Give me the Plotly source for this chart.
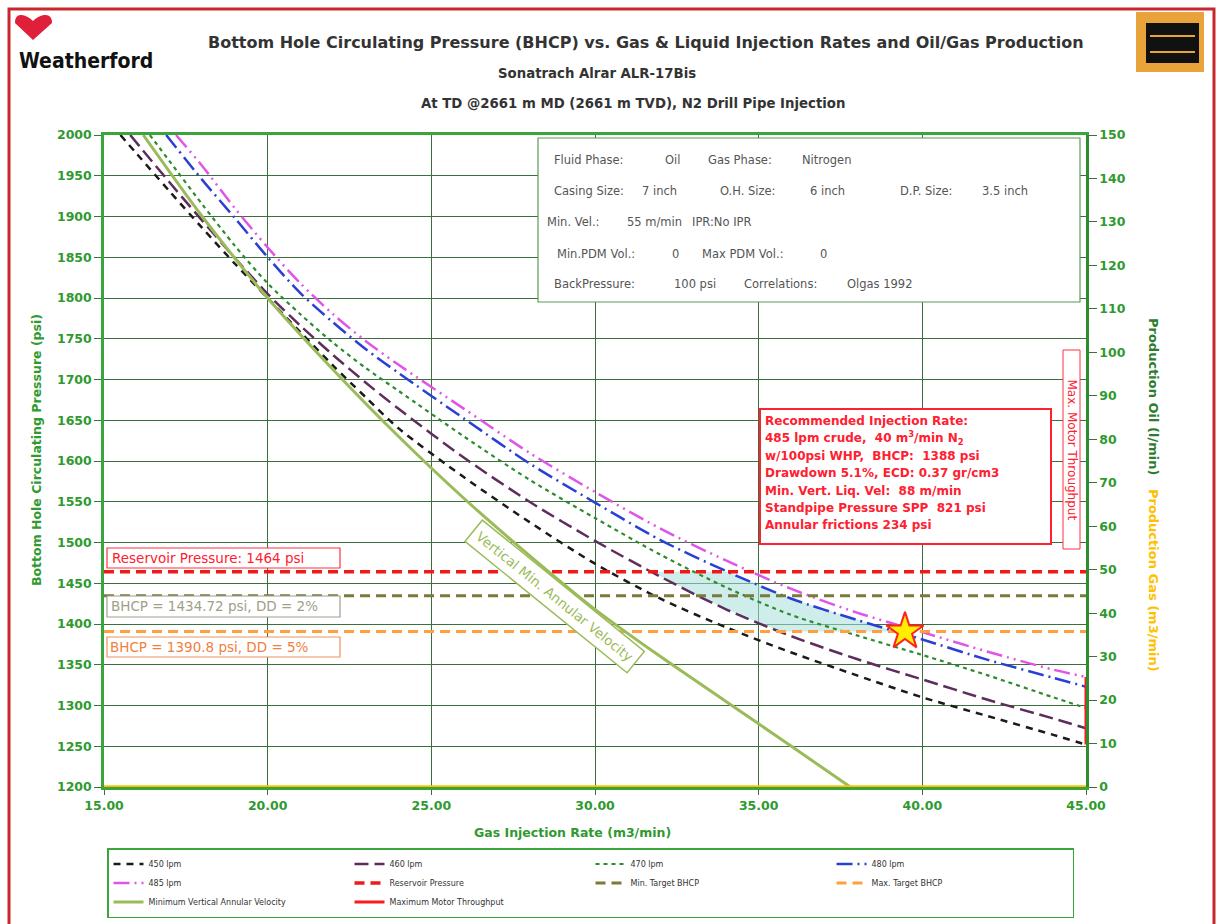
import numpy as np
import plotly.graph_objects as go

# ---------------- data ----------------
gas_450 = [15.5, 16, 17, 18, 19, 20, 21, 22, 23, 24, 26, 28, 30, 32, 34, 36, 38, 40, 42, 44, 45]
bhcp_450 = [2000, 1977, 1931, 1886, 1842, 1800, 1758, 1717, 1678, 1640, 1580, 1525, 1474, 1431, 1396, 1365, 1337, 1310, 1287, 1264, 1252]

gas_460 = [15.8, 17, 18, 19, 20, 21, 22, 23, 24, 26, 28, 30, 32, 34, 36, 38, 40, 42, 44, 45]
bhcp_460 = [2000, 1942, 1895, 1849, 1805, 1766, 1730, 1696, 1664, 1604, 1550, 1502, 1458, 1418, 1385, 1357, 1332, 1307, 1284, 1272]

gas_470 = [16.4, 17, 18, 19, 20, 21, 22, 23, 24, 26, 28, 30, 32, 34, 36, 38, 40, 42, 44, 45]
bhcp_470 = [2000, 1968, 1915, 1864, 1818, 1780, 1745, 1714, 1686, 1630, 1577, 1530, 1485, 1445, 1411, 1386, 1362, 1337, 1310, 1297]

gas_480 = [16.9, 18, 19, 20, 21, 22, 23, 24, 26, 28, 30, 32, 34, 36, 38, 40, 42, 44, 45]
bhcp_480 = [2000, 1945, 1898, 1850, 1806, 1770, 1737, 1708, 1652, 1597, 1549, 1503, 1465, 1431, 1405, 1381, 1356, 1334, 1323]

gas_485 = [17.2, 18, 19, 20, 21, 22, 23, 24, 26, 28, 30, 32, 34, 36, 38, 40, 42, 44, 45]
bhcp_485 = [2000, 1962, 1910, 1862, 1818, 1780, 1747, 1718, 1664, 1610, 1562, 1517, 1478, 1443, 1414, 1390, 1366, 1344, 1335]

gas_minvel = [16.2, 18, 20, 22, 24, 26, 28, 30, 32, 34, 36, 37.8]
bhcp_minvel = [2000, 1900, 1800, 1712, 1630, 1554, 1484, 1418, 1360, 1305, 1250, 1200]

gas_range = [15, 45]
reservoir_pressure = 1464
min_target_bhcp = 1434.72
max_target_bhcp = 1390.8
motor_gas = [45, 45]
motor_bhcp = [1252, 1335]
prod_gas = [0, 0]

rec_gas = [39.47]
rec_bhcp = [1390.8]

# ---------------- geometry helpers ----------------
W, H = 1221, 924
L, T, R, B = 104, 135, 1086, 787


def px(x):
    return (x - L) / (R - L)


def py(y):
    return (B - y) / (B - T)


FONT = "DejaVu Sans, Verdana, sans-serif"
GREEN_TXT = "#2f9a2f"

fig = go.Figure()


def curve(x, y, name, color, dash, width):
    fig.add_trace(go.Scatter(x=x, y=y, name=name, mode="lines",
                             line=dict(color=color, dash=dash, width=width,
                                       shape="spline", smoothing=0.8)))


# shaded recommended window between the 460 and 480 curves
p_levels = np.linspace(reservoir_pressure, max_target_bhcp, 25)
x480 = np.interp(p_levels, bhcp_480[::-1], gas_480[::-1])
x460 = np.interp(p_levels[::-1], bhcp_460[::-1], gas_460[::-1])
fig.add_trace(go.Scatter(x=np.concatenate([x480, x460]),
                         y=np.concatenate([p_levels, p_levels[::-1]]),
                         fill="toself", fillcolor="rgba(165,222,218,0.55)",
                         line=dict(width=0), mode="lines", showlegend=False,
                         hoverinfo="skip"))

curve(gas_450, bhcp_450, "450 lpm", "#1a1a1a", "7px,6px", 2.5)
curve(gas_460, bhcp_460, "460 lpm", "#5e2d5e", "14px,6px", 2.5)
curve(gas_470, bhcp_470, "470 lpm", "#2e8b2e", "4px,4px", 2.2)
curve(gas_480, bhcp_480, "480 lpm", "#2a3fd6", "16px,5px,2px,5px", 2.5)
curve(gas_485, bhcp_485, "485 lpm", "#e055e8", "16px,5px,2px,5px,2px,5px", 2.5)

fig.add_trace(go.Scatter(x=gas_range, y=[reservoir_pressure] * 2, name="Reservoir Pressure",
                         mode="lines", line=dict(color="#f01818", dash="10px,6px", width=3.5)))
fig.add_trace(go.Scatter(x=gas_range, y=[min_target_bhcp] * 2, name="Min. Target BHCP",
                         mode="lines", line=dict(color="#7a7a3a", dash="10px,6px", width=3)))
fig.add_trace(go.Scatter(x=gas_range, y=[max_target_bhcp] * 2, name="Max. Target BHCP",
                         mode="lines", line=dict(color="#ffa040", dash="10px,6px", width=3)))
curve(gas_minvel, bhcp_minvel, "Minimum Vertical Annular Velocity", "#9bbb59", "solid", 3)
fig.add_trace(go.Scatter(x=motor_gas, y=motor_bhcp, name="Maximum Motor Throughput",
                         mode="lines", line=dict(color="#ff1a1a", width=3)))

fig.add_trace(go.Scatter(x=gas_range, y=prod_gas, yaxis="y2", mode="lines",
                         line=dict(color="#ffc000", width=3.5), showlegend=False))

fig.add_trace(go.Scatter(x=rec_gas, y=rec_bhcp, mode="markers", showlegend=False,
                         marker=dict(symbol="star", size=28, color="#ffee00",
                                     line=dict(color="#ff2020", width=2))))

# ---------------- shapes ----------------
shapes = []


def rect(x0, y0, x1, y1, line_color, width=1, fill="rgba(0,0,0,0)", layer="above"):
    shapes.append(dict(type="rect", xref="paper", yref="paper",
                       x0=px(x0), x1=px(x1), y0=py(y1), y1=py(y0),
                       line=dict(color=line_color, width=width), fillcolor=fill, layer=layer))


# page frame
rect(9, 9, 1214, 1000, "#c8282d", 3)
# info box
rect(538, 138, 1080, 302, "#5a9a5a", 1.2, "white")
# recommended box
rect(760, 409, 1051, 544, "#ff2030", 2, "white")
# max motor throughput label box
rect(1063, 350, 1080, 549, "#ff3040", 1, "white")
# reservoir / target label boxes
rect(107, 548, 340, 568, "#ff3040", 1.2, "white")
rect(107, 596, 340, 617, "#a0a090", 1.2, "white")
rect(107, 637, 340, 657, "#f09060", 1.2, "white")
# Sonatrach logo
rect(1136, 12, 1204, 72, "#e8a33a", 0, "#e8a33a")
rect(1146, 23, 1199, 63, "#111111", 0, "#111111")
for yy in (35, 51):
    rect(1150, yy, 1195, yy + 2, "#e8a33a", 0, "#e8a33a")


# Weatherford red mark
def P(x, y):
    return f"{px(x):.5f},{py(y):.5f}"


mark = (f"M {P(15,23)} Q {P(15,14)} {P(22,15)} Q {P(28,16)} {P(33,21)} "
        f"Q {P(38,16)} {P(44,15)} Q {P(52,14)} {P(52,23)} L {P(33,40)} Z")
shapes.append(dict(type="path", xref="paper", yref="paper", path=mark,
                   fillcolor="#e0203a", line=dict(width=0)))

# ---------------- annotations ----------------
ann = []


def text(x, y, s, size=12, color="#555", bold=False, xanchor="left", angle=0, family=FONT, **kw):
    ann.append(dict(xref="paper", yref="paper", x=px(x), y=py(y), text=s, showarrow=False,
                    xanchor=xanchor, yanchor="middle", textangle=angle,
                    font=dict(family=family, size=size, color=color,
                              weight="bold" if bold else "normal"), **kw))


# titles
text(646, 42, "Bottom Hole Circulating Pressure (BHCP) vs. Gas & Liquid Injection Rates and Oil/Gas Production",
     16, "#333", True, "center")
text(597, 73, "Sonatrach Alrar ALR-17Bis", 13.3, "#333", True, "center")
text(633, 103, "At TD @2661 m MD (2661 m TVD), N2 Drill Pipe Injection", 13.3, "#333", True, "center")
text(86, 61, "<b>Weatherford</b>", 21, "#111", True, "center",
     family="DejaVu Sans Condensed, DejaVu Sans, sans-serif")

# info box text
info = [
    (160, [(552, "Fluid Phase:"), (663, "Oil"), (706, "Gas Phase:"), (800, "Nitrogen")]),
    (191, [(552, "Casing Size:"), (640, "7 inch"), (718, "O.H. Size:"), (808, "6 inch"),
           (898, "D.P. Size:"), (980, "3.5 inch")]),
    (222, [(545, "Min. Vel.:"), (625, "55 m/min"), (690, "IPR:No IPR")]),
    (254, [(555, "Min.PDM Vol.:"), (670, "0"), (700, "Max PDM Vol.:"), (818, "0")]),
    (284, [(552, "BackPressure:"), (672, "100 psi"), (742, "Correlations:"), (845, "Olgas 1992")]),
]
for yy, parts in info:
    for xx, s in parts:
        text(xx, yy, s, 11.5, "#555")

# recommended box text
rec_lines = [
    "Recommended Injection Rate:",
    "485 lpm crude,  40 m<sup>3</sup>/min N<sub>2</sub>",
    "w/100psi WHP,  BHCP:  1388 psi",
    "Drawdown 5.1%, ECD: 0.37 gr/cm3",
    "Min. Vert. Liq. Vel:  88 m/min",
    "Standpipe Pressure SPP  821 psi",
    "Annular frictions 234 psi",
]
for i, s in enumerate(rec_lines):
    text(763, 421 + i * 17.4, s, 12, "#ff2030", True)

text(1071.5, 450, "Max. Motor Throughput", 12, "#ff2030", False, "center", 90)

text(110, 558, "Reservoir Pressure: 1464 psi", 13.5, "#ff2030")
text(109, 606, "BHCP = 1434.72 psi, DD = 2%", 13.5, "#a0a088")
text(108, 647, "BHCP = 1390.8 psi, DD = 5%", 13.5, "#f08040")

ann.append(dict(xref="paper", yref="paper", x=px(555), y=py(596),
                text="Vertical Min. Annular Velocity", showarrow=False, textangle=39,
                xanchor="center", yanchor="middle",
                font=dict(family=FONT, size=13.5, color="#9bbb59"),
                bordercolor="#9bbb59", borderwidth=1.5, borderpad=5, bgcolor="white"))

# axis titles
text(36, 450, "Bottom Hole Circulating Pressure (psi)", 12.5, GREEN_TXT, True, "center", -90)
text(572, 832, "Gas Injection Rate (m3/min)", 12.5, GREEN_TXT, True, "center")
text(1153, 495,
     "<span style='color:#2e7d2e'>Production Oil (l/min)</span>   "
     "<span style='color:#ffc000'>Production Gas (m3/min)</span>",
     13, GREEN_TXT, True, "center", 90)

tickfont = dict(family=FONT, size=12.5, color=GREEN_TXT, weight="bold")
grid = "#3d6e3d"

fig.update_layout(
    width=W, height=H,
    margin=dict(l=L, r=W - R, t=T, b=H - B, pad=0, autoexpand=False),
    paper_bgcolor="white", plot_bgcolor="white",
    font=dict(family=FONT),
    xaxis=dict(range=[15, 45], dtick=5, tick0=15, tickformat=".2f", showgrid=True,
               gridcolor=grid, gridwidth=1.2, zeroline=False, showline=True, mirror=True,
               linecolor="#3aa53a", linewidth=2.5, ticks="outside", ticklen=5,
               tickcolor="#3d6e3d", tickfont=tickfont, automargin=False),
    yaxis=dict(range=[1200, 2000], dtick=50, showgrid=True, gridcolor=grid, gridwidth=1.2,
               zeroline=False, showline=True, mirror=True, linecolor="#3aa53a", linewidth=2.5,
               ticks="outside", ticklen=7, tickcolor="#3d6e3d", tickfont=tickfont,
               automargin=False),
    yaxis2=dict(range=[0, 150], dtick=10, overlaying="y", side="right", showgrid=False,
                zeroline=False, showline=True, linecolor="#2e8b2e", linewidth=2.5,
                ticks="outside", ticklen=8, tickcolor="#3d6e3d", tickfont=tickfont,
                automargin=False),
    legend=dict(orientation="h", xref="container", yref="container",
                x=107 / W, y=1 - 848 / H, xanchor="left", yanchor="top",
                entrywidth=196, entrywidthmode="pixels", bgcolor="white",
                bordercolor="#3aa53a", borderwidth=1.5,
                font=dict(family=FONT, size=8, color="#333"), tracegroupgap=0),
    shapes=shapes,
    annotations=ann,
    showlegend=True,
)

fig.write_html("out.html", config={"displayModeBar": False},
               post_script="document.body.style.margin='0';")
